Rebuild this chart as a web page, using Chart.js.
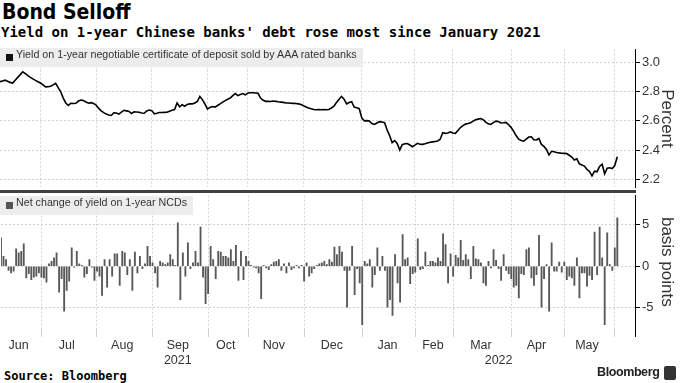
<!DOCTYPE html>
<html>
<head>
<meta charset="utf-8">
<script src="https://cdn.jsdelivr.net/npm/chart.js@4.4.1/dist/chart.umd.min.js"></script>
<style>
  body { margin: 0; background: #fff; }
  #page { position: relative; width: 680px; height: 383px; overflow: hidden; background: #fff; }
  #title { position: absolute; left: 2px; top: 0px; font: bold 21px "DejaVu Sans Condensed", "DejaVu Sans", sans-serif; font-stretch: condensed; color: #000; line-height: 24px; }
  #subtitle { position: absolute; left: 1px; top: 23px; font: bold 14px "DejaVu Sans Mono", monospace; color: #000; line-height: 18px; }
  #topWrap { position: absolute; left: 0; top: 47px; width: 680px; height: 143px; }
  #bottomWrap { position: absolute; left: 0; top: 193px; width: 680px; height: 173px; }
  #sep { position: absolute; left: 0; top: 190px; width: 636px; height: 3px; background: #404040; }
  .legend { position: absolute; left: 0; height: 19px; line-height: 19px; background: rgba(236, 236, 236, 0.92); font: 10.7px "Liberation Sans", Arial, sans-serif; color: #333; padding: 0 6px 0 16px; white-space: nowrap; }
  .legend i { position: absolute; left: 6px; top: 6px; width: 7px; height: 7px; }
  #source { position: absolute; left: 4px; top: 369px; font: bold 12px "DejaVu Sans Mono", monospace; color: #000; }
  #brand { position: absolute; left: 597px; top: 365px; font: bold 12.5px "Liberation Sans", Arial, sans-serif; letter-spacing: -0.4px; color: #222; }
  #logo { position: absolute; left: 664px; top: 366px; width: 12px; height: 14px; border-radius: 2px; background: #333; }
</style>
</head>
<body>
<div id="page">
  <div id="title">Bond Selloff</div>
  <div id="subtitle">Yield on 1-year Chinese banks' debt rose most since January 2021</div>
  <div id="topWrap"><canvas id="topChart" width="680" height="143"></canvas></div>
  <div id="bottomWrap"><canvas id="bottomChart" width="680" height="173"></canvas></div>
  <div id="sep"></div>
  <div class="legend" style="top:48px"><i style="background:#111"></i>Yield on 1-year negotiable certificate of deposit sold by AAA rated banks</div>
  <div class="legend" style="top:196px"><i style="background:#555"></i>Net change of yield on 1-year NCDs</div>
  <div id="source">Source: Bloomberg</div>
  <div id="brand">Bloomberg</div>
  <div id="logo"></div>
</div>
<script>
// trading days shown per month, Jun 2021 .. Jun 2022
const monthNames = ['Jun', 'Jul', 'Aug', 'Sep', 'Oct', 'Nov', 'Dec', 'Jan', 'Feb', 'Mar', 'Apr', 'May', 'Jun'];
const monthDays = [16, 22, 22, 22, 16, 22, 23, 21, 15, 23, 21, 20, 2];
const yearLabels = ['2021', '2022'];
const yearFirstMonth = [0, 7];
const blankDays = 7; // empty space right of the last point

// 1-year NCD yield, percent
const yieldValues = [
  2.867, 2.872, 2.877, 2.870, 2.862, 2.858, 2.877, 2.896, 2.915, 2.934,
  2.922, 2.908, 2.896, 2.886, 2.876, 2.867, 2.858, 2.845, 2.831, 2.833,
  2.836, 2.845, 2.856, 2.826, 2.798, 2.755, 2.722, 2.705, 2.720, 2.718,
  2.720, 2.735, 2.742, 2.738, 2.728, 2.720, 2.724, 2.718, 2.707, 2.685,
  2.668, 2.656, 2.646, 2.640, 2.637, 2.655, 2.654, 2.646, 2.660, 2.672,
  2.668, 2.664, 2.650, 2.661, 2.660, 2.659, 2.654, 2.652, 2.668, 2.674,
  2.670, 2.648, 2.652, 2.657, 2.657, 2.658, 2.659, 2.666, 2.672, 2.677,
  2.722, 2.696, 2.710, 2.700, 2.712, 2.716, 2.716, 2.722, 2.732, 2.766,
  2.745, 2.715, 2.681, 2.692, 2.698, 2.694, 2.705, 2.716, 2.728, 2.738,
  2.747, 2.756, 2.772, 2.786, 2.772, 2.780, 2.786, 2.777, 2.790, 2.792,
  2.792, 2.790, 2.788, 2.755, 2.740, 2.733, 2.734, 2.732, 2.735, 2.733,
  2.730, 2.728, 2.726, 2.722, 2.722, 2.720, 2.719, 2.718, 2.716, 2.712,
  2.703, 2.695, 2.688, 2.682, 2.677, 2.676, 2.677, 2.676, 2.677, 2.676,
  2.678, 2.688, 2.700, 2.725, 2.748, 2.766, 2.748, 2.716, 2.725, 2.731,
  2.694, 2.690, 2.683, 2.620, 2.600, 2.602, 2.600, 2.582, 2.576, 2.586,
  2.595, 2.592, 2.588, 2.540, 2.500, 2.452, 2.466, 2.446, 2.402, 2.438,
  2.444, 2.446, 2.436, 2.424, 2.435, 2.447, 2.441, 2.440, 2.444, 2.449,
  2.454, 2.457, 2.460, 2.463, 2.475, 2.520, 2.515, 2.518, 2.525, 2.518,
  2.515, 2.535, 2.555, 2.568, 2.578, 2.582, 2.588, 2.598, 2.608, 2.612,
  2.616, 2.608, 2.592, 2.580, 2.576, 2.588, 2.598, 2.596, 2.586, 2.587,
  2.590, 2.575, 2.556, 2.530, 2.500, 2.475, 2.466, 2.462, 2.476, 2.490,
  2.492, 2.472, 2.470, 2.480, 2.440, 2.426, 2.405, 2.368, 2.393, 2.390,
  2.385, 2.382, 2.380, 2.379, 2.378, 2.366, 2.354, 2.334, 2.342, 2.308,
  2.300, 2.292, 2.270, 2.256, 2.226, 2.258, 2.254, 2.290, 2.305, 2.240,
  2.278, 2.281, 2.276, 2.296, 2.356
];

// daily net change, basis points
const changeValues = [
  3.4, 1.2, 0.8, -0.5, -0.8, -0.6, 2.1, 1.6, 1.8, 2.7,
  -1.4, -0.9, -1.6, -1.3, -1.2, -0.8, -1.3, -1.4, -1.9, 0.3,
  0.6, 1.0, 1.6, -3.1, -1.5, -5.4, -2.9, -1.8, 2.2, -0.1,
  1.8, 0.3, 0.1, -1.3, -0.9, 0.8, -0.1, -1.7, -0.6, -1.2,
  -3.5, 0.8, -2.5, 0.8, -1.2, 1.5, 1.5, -2.3, 1.8, 1.6,
  -1.0, 0.8, -2.9, 1.7, -0.8, 1.2, -0.3, 0.3, 2.4, 1.2,
  0.4, -0.8, -2.5, 0.6, 0.4, 0.2, 0.4, 1.4, 0.8, 0.1,
  5.2, -4.0, 1.6, -1.2, 2.8, -0.3, 0.4, 1.8, 0.4, 4.7,
  -1.3, -4.5, -3.3, 2.4, 0.8, -1.5, 1.8, 1.7, 1.2, 1.2,
  1.0, 2.0, 0.6, 2.5, -1.7, 1.8, -1.6, 1.2, 0.6, 0.1,
  -0.1, -0.2, -0.8, -3.9, 0.1, -0.2, -0.4, 0.2, 0.5, 0.6,
  0.8, -0.5, 0.3, -0.8, 0.4, -0.4, -0.2, 0.1, -0.2, 0.1,
  -1.8, 0.4, -1.2, -0.8, -0.3, 0.1, 0.3, 0.4, 0.6, 0.2,
  0.8, 0.5, 2.3, 1.4, 2.4, 1.7, -0.5, -4.9, -0.5, 2.4,
  -3.4, -0.3, -2.0, -7.0, 0.6, 0.3, 0.8, -2.5, -1.0, 2.2,
  -0.5, 1.2, -0.5, -4.9, -4.0, -5.9, 1.4, -2.0, -4.3, 3.8,
  0.8, 1.0, -2.1, -0.9, -0.7, 3.3, -0.4, -0.3, 1.7, 0.1,
  0.6, 0.6, 0.4, 1.0, 0.6, 3.9, 2.6, -2.0, 1.5, -1.2,
  1.3, 1.0, 3.1, 0.7, 1.4, 0.8, -1.5, 2.4, 0.9, 0.8,
  0.4, -2.0, -2.3, 0.6, -0.2, 2.0, 0.7, -0.3, -1.7, 1.4,
  -0.5, -0.9, -1.5, -2.5, -2.3, -3.8, -0.9, -1.0, 2.0, 2.2,
  -1.4, -2.3, -1.0, 3.7, -4.9, -1.5, 0.2, -5.4, 2.8, -0.6,
  -0.6, 0.5, -0.7, 0.5, -1.6, -1.2, -1.4, -2.3, 1.0, -3.8,
  -0.8, -0.8, -2.4, -1.1, -1.6, 4.1, -1.0, 4.7, 1.0, -7.0,
  4.0, 0.2, -0.5, 2.2, 5.8
];

const yieldTicks = [2.2, 2.4, 2.6, 2.8, 3.0];
const changeTicks = [-5, 0, 5];

// build the category axis: one slot per trading day
const monthStarts = [];
const tickText = [];
let start = 0;
monthDays.forEach((days, m) => {
  monthStarts.push(start);
  for (let d = 0; d < days; d++) tickText.push('');
  if (m < monthNames.length - 1) tickText[start + Math.floor((days - 1) / 2)] = monthNames[m];
  start += days;
});
for (let d = 0; d < blankDays; d++) tickText.push('');
const labels = tickText.map((t, i) => i);
const lastSlot = tickText.length - 1;

// year under the middle of its span
yearLabels.forEach((y, k) => {
  const first = monthStarts[yearFirstMonth[k]];
  const last = k + 1 < yearLabels.length ? monthStarts[yearFirstMonth[k + 1]] - 1 : lastSlot;
  const mid = Math.round((first + last) / 2);
  const nearby = [mid - 2, mid - 1, mid, mid + 1, mid + 2].find(i => tickText[i] !== '');
  if (nearby !== undefined) tickText[nearby] = [tickText[nearby], y];
  else tickText[mid] = ['', y];
});

const gridGrey = '#d2d2d2';
const xFont = { family: '"Liberation Sans", Arial, sans-serif', size: 12.5 };
// tiny lineHeight so the edge labels do not pad the plot area
const yFont = { family: '"Liberation Sans", Arial, sans-serif', size: 13, lineHeight: 0.1 };
const titleFont = { family: '"Liberation Sans", Arial, sans-serif', size: 17 };
const monthLine = (ctx) => {
  if (!ctx.tick) return 'rgba(0,0,0,0)';
  if (ctx.tick.value === lastSlot) return '#000';
  return (ctx.tick.value > 0 && monthStarts.includes(ctx.tick.value)) ? gridGrey : 'rgba(0,0,0,0)';
};

const rightAxis = (min, max, ticks, fmt, title) => ({
  position: 'right',
  min: min,
  max: max,
  afterBuildTicks: (s) => { s.ticks = ticks.map(v => ({ value: v })); },
  afterFit: (s) => { s.width = 45; },
  ticks: { callback: fmt, font: yFont, color: '#333', padding: 2 },
  grid: { color: gridGrey, tickColor: '#000', tickLength: 5, lineWidth: 1 },
  border: { display: true, color: '#000', width: 1, dash: [2, 2] },
  title: { display: true, text: title, font: titleFont, color: '#333', padding: { top: 3, bottom: 0 } }
});

new Chart(document.getElementById('topChart'), {
  type: 'line',
  data: {
    labels: labels,
    datasets: [{
      data: yieldValues,
      borderColor: '#000',
      borderWidth: 1.6,
      pointRadius: 0,
      tension: 0,
      fill: false
    }]
  },
  options: {
    responsive: false,
    animation: false,
    layout: { padding: 0 },
    plugins: { legend: { display: false }, tooltip: { enabled: false } },
    scales: {
      x: {
        offset: false,
        afterFit: (s) => { s.height = 0; },
        ticks: { display: false },
        grid: { color: monthLine, drawTicks: false, offset: false },
        border: { display: false, dash: [2, 2] }
      },
      y: rightAxis(2.1475, 3.085, yieldTicks, v => v.toFixed(1), 'Percent')
    }
  }
});

new Chart(document.getElementById('bottomChart'), {
  type: 'bar',
  data: {
    labels: labels,
    datasets: [{
      data: changeValues,
      backgroundColor: '#585858',
      barThickness: 1.2
    }]
  },
  options: {
    responsive: false,
    animation: false,
    layout: { padding: 0 },
    plugins: { legend: { display: false }, tooltip: { enabled: false } },
    scales: {
      x: {
        offset: false,
        afterFit: (s) => { s.height = 38; },
        ticks: {
          autoSkip: false,
          maxRotation: 0,
          minRotation: 0,
          padding: 1,
          font: xFont,
          color: '#333',
          callback: (v, i) => tickText[i]
        },
        grid: { color: monthLine, tickColor: monthLine, offset: false, tickLength: 9, tickBorderDash: [] },
        border: { display: false, dash: [2, 2] }
      },
      y: rightAxis(-7.41, 8.47, changeTicks, v => String(v), 'basis points')
    }
  }
});
</script>
</body>
</html>
